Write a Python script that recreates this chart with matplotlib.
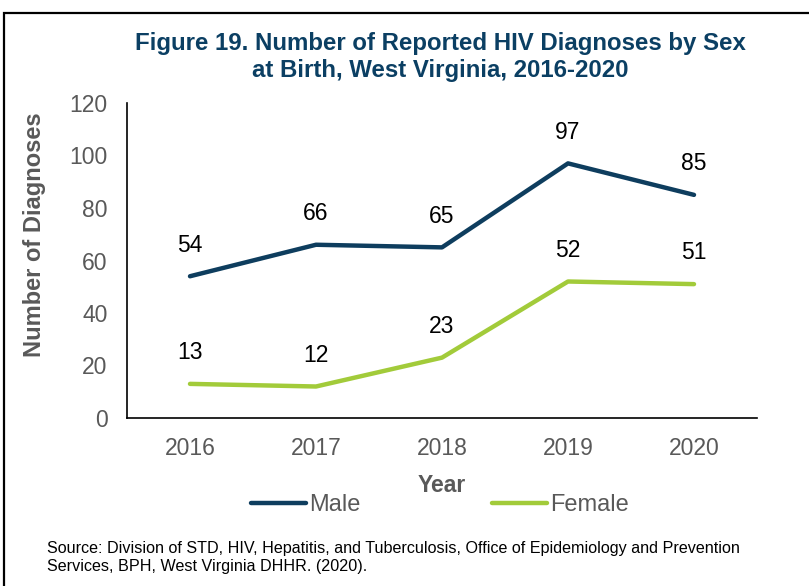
import matplotlib.pyplot as plt
from matplotlib.patches import Rectangle

plt.rcParams['font.family'] = ['Liberation Sans', 'DejaVu Sans']

years = ['2016', '2017', '2018', '2019', '2020']
male = [54, 66, 65, 97, 85]
female = [13, 12, 23, 52, 51]

navy = '#0E3D5E'
lime = '#A2CB3A'
grey = '#595959'

fig = plt.figure(figsize=(8.09, 5.86), dpi=100)
ax = fig.add_axes([127 / 809, 1 - 418 / 586, 630 / 809, 315 / 586])

x = range(len(years))
ax.plot(x, male, color=navy, lw=3.2, solid_capstyle='round', label='Male')
ax.plot(x, female, color=lime, lw=3.2, solid_capstyle='round', label='Female')

# value labels above each point
for xi, v in zip(x, male):
    ax.annotate(str(v), (xi, v), xytext=(0, 22.5), textcoords='offset points',
                ha='center', va='center', fontsize=16.5, color='black')
for xi, v in zip(x, female):
    ax.annotate(str(v), (xi, v), xytext=(0, 22.5), textcoords='offset points',
                ha='center', va='center', fontsize=16.5, color='black')

ax.set_xlim(-0.5, 4.5)
ax.set_ylim(0, 120)
ax.set_yticks(range(0, 121, 20))
ax.set_xticks(list(x))
ax.set_xticklabels(years)
ax.tick_params(length=0, labelsize=16.5, labelcolor=grey)
ax.tick_params(axis='y', pad=14)
ax.tick_params(axis='x', pad=14)
for s in ['top', 'right']:
    ax.spines[s].set_visible(False)
for s in ['left', 'bottom']:
    ax.spines[s].set_color('black')
    ax.spines[s].set_linewidth(1.2)

ax.set_xlabel('Year', fontsize=16.5, fontweight='bold', color=grey, labelpad=10)

# y label sits a bit above the axes centre
fig.text(35 / 809, 1 - 235 / 586, 'Number of Diagnoses', rotation=90,
         ha='center', va='center', fontsize=17, fontweight='bold', color=grey)

fig.text(440 / 809, 1 - 57 / 586,
         'Figure 19. Number of Reported HIV Diagnoses by Sex\nat Birth, West Virginia, 2016-2020',
         ha='center', va='center', fontsize=17.3, fontweight='bold', color='#0B3F63',
         linespacing=1.2)

fig.legend(loc='center', bbox_to_anchor=(440 / 809, 1 - 505 / 586), ncol=2,
           frameon=False, fontsize=17, handlelength=2.33, handletextpad=0.1,
           columnspacing=5.6, labelcolor=grey, borderpad=0.2)

fig.text(47 / 809, 1 - 557 / 586,
         'Source: Division of STD, HIV, Hepatitis, and Tuberculosis, Office of Epidemiology and Prevention\n'
         'Services, BPH, West Virginia DHHR. (2020).',
         ha='left', va='center', fontsize=11.6, color='black', linespacing=1.25)

fig.patches.append(Rectangle((3.5 / 809, -0.1), 1.2, 1 - 12.5 / 586 + 0.1,
                             transform=fig.transFigure, fill=False,
                             edgecolor='black', lw=1.6))

fig.savefig('out.png', dpi=100)
